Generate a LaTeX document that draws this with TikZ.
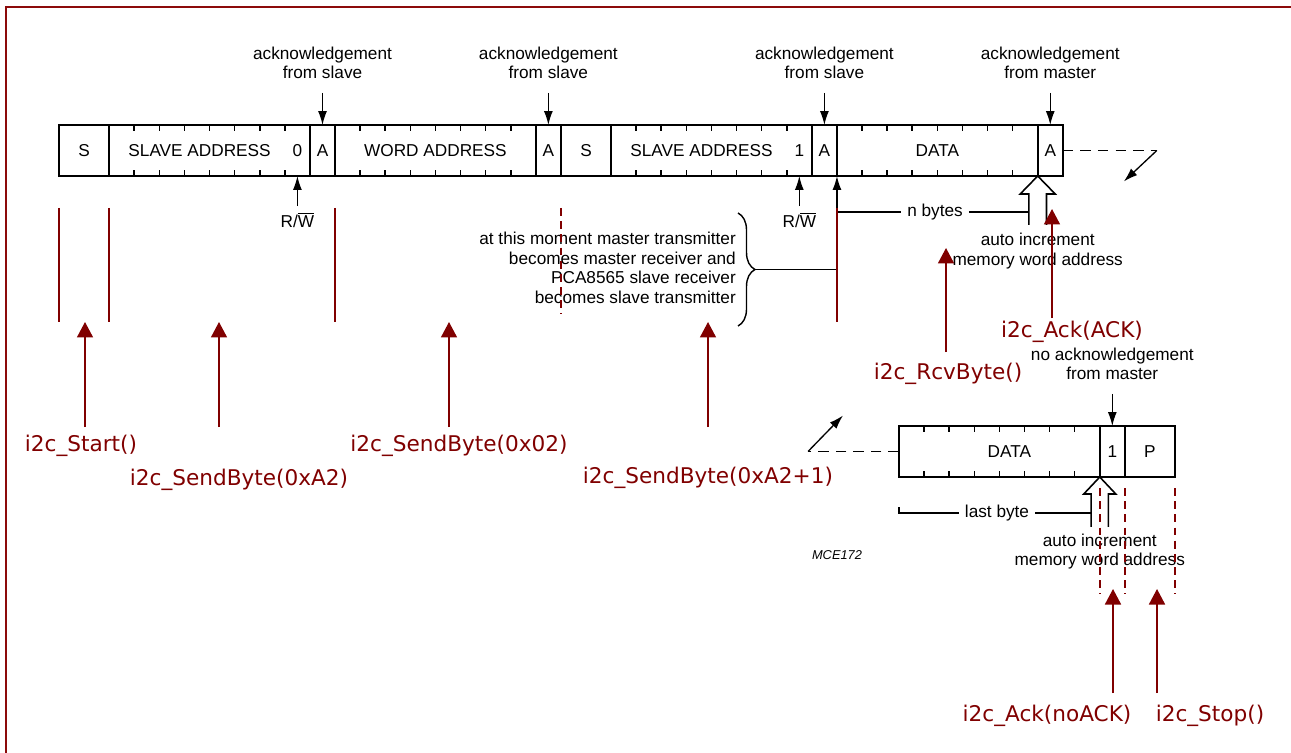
\documentclass[tikz,border=0pt]{standalone}
\usepackage{fontspec}
\setmainfont{Liberation Sans}
\newfontfamily\codefont{DejaVu Sans}
\usetikzlibrary{arrows.meta,positioning,decorations.pathreplacing}
\definecolor{fnred}{RGB}{128,0,0}
\definecolor{framered}{RGB}{140,10,10}
\newcommand\boxfont{\fontsize{9.8}{11.2}\selectfont}
\newcommand\fnfont{\codefont\fontsize{12.3}{14}\selectfont}

\begin{document}
\begin{tikzpicture}[x=.02cm,y=-.02cm,>={Latex[length=2.8mm,width=1.8mm]},
 cell/.style={draw,line width=.9pt,minimum width=#1*5.02mm,minimum height=1.02cm,inner sep=0pt,outer sep=0pt,font=\boxfont},
 cell/.default=1,
 note/.style={align=center,font=\boxfont},
 ptr/.style={->,line width=.75pt},
 fn/.style={text=fnred,font=\fnfont},
 call/.style={draw=fnred,line width=1pt,-{Triangle[width=3.2mm,length=3.1mm]}},
 redline/.style={draw=fnred,line width=1pt},
 reddash/.style={redline,dash pattern=on 4.5pt off 3pt},
 brk/.style={line width=.8pt,dash pattern=on 6pt off 4pt}]
 \useasboundingbox (0,0) rectangle (1291,753);
 \draw[framered,line width=1.3pt] (6,753) -- (6,7) -- (1291,7);
 % write sequence
 \node[cell=2,anchor=west] (s1) at (59,150.5) {S};
 \node[cell=8,right=0pt of s1] (sa1) {};
 \node[cell,right=0pt of sa1] (a1) {A};
 \node[cell=8,right=0pt of a1] (wa) {WORD ADDRESS};
 \node[cell,right=0pt of wa] (a2) {A};
 \node[cell=2,right=0pt of a2] (s2) {S};
 \node[cell=8,right=0pt of s2] (sa2) {};
 \node[cell,right=0pt of sa2] (a3) {A};
 \node[cell=8,right=0pt of a3] (dat1) {DATA};
 \node[cell,right=0pt of dat1] (a4) {A};
 % last byte
 \node[cell=8,anchor=west,label={[xshift=2mm,font=\boxfont]center:DATA}] (dat2) at (899,451.5) {};
 \node[cell,right=0pt of dat2] (one) {1};
 \node[cell=2,right=0pt of one] (p) {P};
 \foreach \c in {sa1,wa,sa2,dat1,dat2}
  \foreach \k in {1,...,7}
   \draw[line width=.9pt] ([xshift=\k*5.02mm]\c.north west) -- ++(0,6) ([xshift=\k*5.02mm]\c.south west) -- ++(0,-6);
 \node[font=\boxfont] (sal1) at ([xshift=-2mm]sa1.center) {SLAVE ADDRESS};
 \node[font=\boxfont] (sal2) at ([xshift=-2mm]sa2.center) {SLAVE ADDRESS};
 \node[font=\boxfont] (b0) at ([xshift=-2.51mm]sa1.east) {0};
 \node[font=\boxfont] (b1) at ([xshift=-2.51mm]sa2.east) {1};
 % acknowledgements
 \node[note] (k1) at (a1 |- 0,63) {acknowledgement\\from slave};
 \node[note] (k2) at (a2 |- 0,63) {acknowledgement\\from slave};
 \node[note] (k3) at (a3 |- 0,63) {acknowledgement\\from slave};
 \node[note] (k4) at (a4 |- 0,63) {acknowledgement\\from master};
 \foreach \k/\a in {k1/a1,k2/a2,k3/a3,k4/a4} \draw[ptr,shorten <=1.5mm] (\k) -- (\a);
 \node[font=\boxfont] (rw0) at (b0 |- 0,220) {R/$\overline{\mbox{W}}$};
 \node[font=\boxfont] (rw1) at (b1 |- 0,220) {R/$\overline{\mbox{W}}$};
 \draw[ptr] (rw0) -- (b0 |- sa1.south);\draw[ptr] (rw1) -- (b1 |- sa2.south);
 % change of direction
 \node[align=right,font=\boxfont,anchor=east] (moment) at (742,268) {at this moment master transmitter\\becomes master receiver and\\PCA8565 slave receiver\\becomes slave transmitter};
 \draw[line width=.8pt,decorate,decoration={brace,amplitude=3.4mm}] (738,213) -- (738,326);
 \coordinate (brtip) at (756,269.5);
 \draw[line width=.8pt] (brtip) -- (brtip -| dat1.west);
 \draw[ptr] (brtip -| dat1.west) -- (dat1.south west);
 \node[font=\boxfont] (nb) at (935,212) {n bytes};
 \draw[line width=.9pt] ([shift={(-8.8,49)}]dat1.south east) coordinate (hs1) -- ++(0,-31) -- ++(-8.7,0) -- (dat1.south east) -- ++(17.5,18) -- ++(-8.7,0) -- ++(0,31);
 \draw[line width=.8pt] (nb -| dat1.west) -- (nb) (nb) -- (nb -| hs1);
 \node[note] (ai1) at (dat1.south east |- 0,251) {auto increment\\memory word address};
 \draw[brk] (a4.east) -- ++(94,0) coordinate (cut1);\draw[ptr] (cut1) -- ++(-33,31);
 % end of reading
 \node[note] (nk) at (one |- 0,364) {no acknowledgement\\from master};
 \draw[ptr,shorten <=1.5mm] (nk) -- (one);
 \draw[line width=.9pt] ([shift={(-8.6,50)}]dat2.south east) coordinate (hs2) -- ++(0,-33) -- ++(-7.4,0) -- (dat2.south east) -- ++(16,17) -- ++(-7.4,0) -- ++(0,33);
 \node[font=\boxfont] (lb) at (997,513) {last byte};
 \draw[line width=.8pt] (lb) -- (lb -| dat2.west) -- ++(0,-6) (lb) -- (lb -| hs2);
 \node[note] (ai2) at (dat2.south east |- 0,551.5) {auto increment\\memory word address};
 \draw[brk] (dat2.west) -- ++(-91,0) coordinate (cut2);\draw[ptr] (cut2) -- ++(35,-36);
 \node[font=\fontsize{7.3}{8}\selectfont\itshape] (mce) at (837,555) {MCE172};
 % function calls
 \foreach \c in {s1,sa1,wa,dat1} \draw[redline] (\c.west |- 0,208) -- (\c.west |- 0,322);
 \draw[reddash] (s2.west |- 0,208) -- (s2.west |- 0,314);
 \foreach \c in {one.west,p.west,p.east} \draw[reddash] (\c |- 0,488) -- (\c |- 0,594);
 \foreach \n/\x/\t/\b in {st/85/322/427,sb1/219/322/427,sb2/449/322/427,sb3/708/322/427,rcv/946/248/352,ack/1052/209/318,nak/1113/589/693,stp/1157/589/693}
  {\coordinate (tip\n) at (\x,\t);\coordinate (foot\n) at (\x,\b);\draw[call] (foot\n) -- (tip\n);}
 \node[fn] (fst) at (81,446) {i2c\_Start()};
 \node[fn] (fsb1) at (239,480) {i2c\_SendByte(0xA2)};
 \node[fn] (fsb2) at (459,446) {i2c\_SendByte(0x02)};
 \node[fn] (fsb3) at (708,478) {i2c\_SendByte(0xA2+1)};
 \node[fn] (frcv) at (948,374) {i2c\_RcvByte()};
 \node[fn] (fack) at (1072,332) {i2c\_Ack(ACK)};
 \node[fn] (fnak) at (1047,716) {i2c\_Ack(noACK)};
 \node[fn] (fstp) at (1210,716) {i2c\_Stop()};
\end{tikzpicture}
\end{document}
